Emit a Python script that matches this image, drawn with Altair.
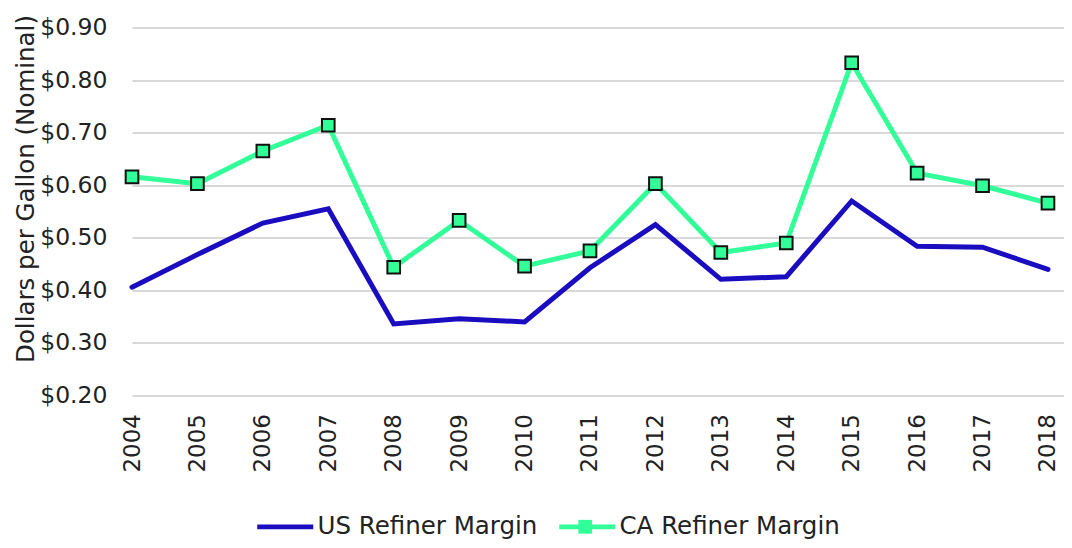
import altair as alt
import pandas as pd

years = list(range(2004, 2019))
us_margin = [0.406, 0.468, 0.528, 0.555, 0.336, 0.346, 0.340, 0.443, 0.525, 0.421, 0.426, 0.570, 0.484, 0.482, 0.440]
ca_margin = [0.616, 0.603, 0.665, 0.714, 0.444, 0.533, 0.446, 0.475, 0.603, 0.472, 0.490, 0.833, 0.623, 0.599, 0.566]
series = ["US Refiner Margin", "CA Refiner Margin"]
y_ticks = [0.2, 0.3, 0.4, 0.5, 0.6, 0.7, 0.8, 0.9]

rows = []
for y, u, c in zip(years, us_margin, ca_margin):
    rows.append({"Year": y, "Series": series[0], "Value": u})
    rows.append({"Year": y, "Series": series[1], "Value": c})
df = pd.DataFrame(rows)

FONT = "DejaVu Sans"
TXT = "#222222"
BLUE = "#1A0DBF"
GREEN = "#33FF99"

x_enc = alt.X("Year:Q", scale=alt.Scale(domain=[2004, 2018.245], nice=False, zero=False),
              axis=alt.Axis(values=years, format="d", labelAngle=-90, title=None, grid=False,
                            domain=False, ticks=False, labelPadding=18, labelFontSize=23,
                            labelAlign="right", labelBaseline="middle", labelFlush=False))
y_enc = alt.Y("Value:Q", scale=alt.Scale(domain=[0.2, 0.9], nice=False, zero=False),
              axis=alt.Axis(values=y_ticks, format="$.2f", title="Dollars per Gallon (Nominal)",
                            domain=False, ticks=False, labelPadding=25, labelFontSize=23.5,
                            titleFontSize=24.5, titleFontWeight="normal", titleAngle=-90,
                            titleAlign="center", titleBaseline="alphabetic",
                            titleX=-99, titleY=161,
                            gridColor="#D9D9D9", gridWidth=2))

base = alt.Chart(df)

us_line = base.transform_filter(alt.datum.Series == series[0]).mark_line(
    strokeWidth=5, strokeCap="round", color=BLUE).encode(x=x_enc, y=y_enc)
ca_line = base.transform_filter(alt.datum.Series == series[1]).mark_line(
    strokeWidth=5, strokeCap="round", color=GREEN).encode(x="Year:Q", y="Value:Q")
ca_points = base.transform_filter(alt.datum.Series == series[1]).mark_point(
    shape="square", filled=True, size=160, fill=GREEN, stroke="#111111", strokeWidth=2, opacity=1
).encode(x="Year:Q", y="Value:Q")

line_sym = "M-3.5,-0.31L3.5,-0.31L3.5,0.31L-3.5,0.31Z"

legend_lines = base.transform_filter(alt.datum.Value < 0).mark_point(filled=True, opacity=1).encode(
    x="Year:Q", y="Value:Q",
    color=alt.Color("Series:N", scale=alt.Scale(domain=series, range=[BLUE, GREEN]),
                    legend=alt.Legend(title=None, orient="none", direction="horizontal",
                                      legendX=141, legendY=487, labelFontSize=24.5,
                                      symbolType=line_sym, symbolSize=256, symbolStrokeWidth=0,
                                      columnPadding=21, labelOffset=20, labelLimit=400,
                                      symbolOpacity=1, zindex=1)),
)

legend_marker = base.transform_filter(alt.datum.Value < 0).transform_calculate(
    Marker="datum.Series"
).mark_point(filled=True, shape="square", fill=GREEN, stroke="#111111", strokeWidth=2, opacity=1).encode(
    x="Year:Q", y="Value:Q",
    opacity=alt.Opacity("Marker:N", scale=alt.Scale(domain=[series[1]], range=[1]),
                        legend=alt.Legend(title=None, orient="none", direction="horizontal",
                                          legendX=441, legendY=487, labelFontSize=24.5,
                                          labelExpr="''", labelLimit=10,
                                          symbolType="square", symbolSize=190, symbolStrokeWidth=2,
                                          symbolFillColor=GREEN, symbolStrokeColor="#111111",
                                          labelOpacity=0, symbolOpacity=1, zindex=2)),
)

chart = alt.layer(us_line, ca_line, ca_points, legend_lines, legend_marker).properties(
    width=932, height=368,
    autosize=alt.AutoSizeParams(type="none"),
    padding={"left": 124, "top": 19.5, "right": 0, "bottom": 144.5},
).configure(font=FONT).configure_axis(
    labelColor=TXT, titleColor=TXT, labelFont=FONT, titleFont=FONT
).configure_legend(labelColor=TXT, labelFont=FONT).configure_view(stroke=None)

chart.save("out.html", embed_options={"renderer": "svg", "actions": False})
